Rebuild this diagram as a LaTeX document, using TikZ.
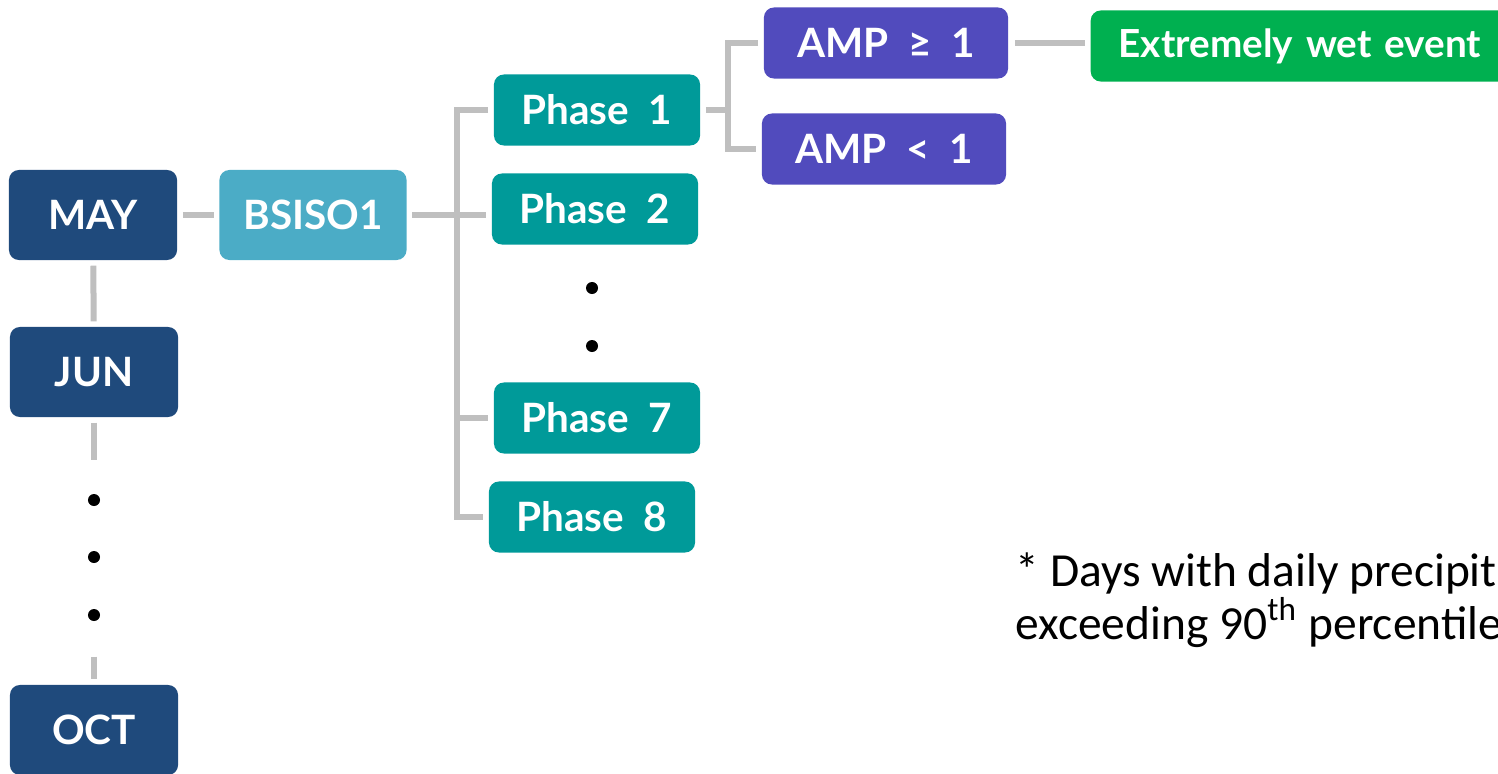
\documentclass[tikz,border=0pt]{standalone}
\usepackage{fontspec}
\setmainfont{Lato}
\newfontfamily\notefont{Carlito}
\usepackage{tikz}

\definecolor{monthblue}{HTML}{1F4A7C}
\definecolor{bsisoblue}{HTML}{4BACC6}
\definecolor{phaseteal}{HTML}{009A99}
\definecolor{ampviolet}{HTML}{514BBD}
\definecolor{wetgreen}{HTML}{00B050}
\definecolor{linegray}{HTML}{BFBFBF}

\begin{document}
\begin{tikzpicture}[x=0.01cm,y=-0.01cm,
    box/.style={rounded corners=0.1cm, text=white, inner sep=0pt,
        font=\fontsize{11.5}{13}\selectfont\bfseries},
    month/.style={box, fill=monthblue, minimum width=1.68cm, minimum height=0.9cm},
    index/.style={box, fill=bsisoblue, minimum width=1.87cm, minimum height=0.9cm},
    phase/.style={box, fill=phaseteal, minimum width=2.06cm, minimum height=0.71cm},
    amp/.style={box, fill=ampviolet, minimum width=2.44cm, minimum height=0.71cm},
    event/.style={box, fill=wetgreen, minimum height=0.71cm, inner xsep=0.28cm,
        text width=4.4cm, align=left, font=\fontsize{11}{13}\selectfont\bfseries},
    link/.style={draw=linegray, line width=0.06cm, shorten <=0.05cm, shorten >=0.05cm},
    dot/.style={circle, fill=black, inner sep=0pt, minimum size=0.12cm}]
    \useasboundingbox (0,0) rectangle (1498,773);
    \clip (0,0) rectangle (1498,773);

    \node[month] (may) at (93,215) {MAY};
    \node[month] (jun) at (94,372) {JUN};
    \node[dot] (md1) at (94,500) {};
    \node[dot] (md2) at (94,557) {};
    \node[dot] (md3) at (94,615) {};
    \node[month] (oct) at (94,730) {OCT};

    \node[index] (bsiso) at (313,215) {BSISO1};

    \node[phase] (phase1) at (597,110) {Phase\ \ 1};
    \node[phase] (phase2) at (595,209) {Phase\ \ 2};
    \node[dot] (pd1) at (592,288) {};
    \node[dot] (pd2) at (592,346) {};
    \node[phase] (phase7) at (597,418) {Phase\ \ 7};
    \node[phase] (phase8) at (592,517) {Phase\ \ 8};

    \node[amp] (amphi) at (886,43) {AMP\ \ ≥\ \ 1};
    \node[amp] (amplo) at (884,149) {AMP\ \ <\ \ 1};

    \node[event, anchor=west] (wet) at (1090,46) {Extremely wet event};

    \node[anchor=north west, inner sep=0pt, align=left,
        font=\notefont\fontsize{13.5}{15}\selectfont] (note) at (1015,552)
        {* Days with daily precipit\\exceeding 90\textsuperscript{th} percentile};

    \coordinate (trunk) at (457,215);
    \coordinate (fork) at (728,110);

    \draw[link] (may) -- (jun);
    \draw[link, shorten >=0.33cm] (jun) -- (md1);
    \draw[link, shorten <=0.35cm] (md3) -- (oct);
    \draw[link] (may) -- (bsiso);
    \draw[link] (bsiso.east) -- (bsiso.east -| phase2.west);
    \draw[link] (phase1.west) -| (trunk) |- (phase8.west);
    \draw[link, shorten <=0pt] (phase7.west -| trunk) -- (phase7.west);
    \draw[link, shorten >=0pt] (phase1.east) -- (fork);
    \draw[link] (amphi.west) -| (fork) |- (amplo.west);
    \draw[link, shorten <=0.06cm] (amphi.east) -- (amphi.east -| wet.west);
\end{tikzpicture}
\end{document}
